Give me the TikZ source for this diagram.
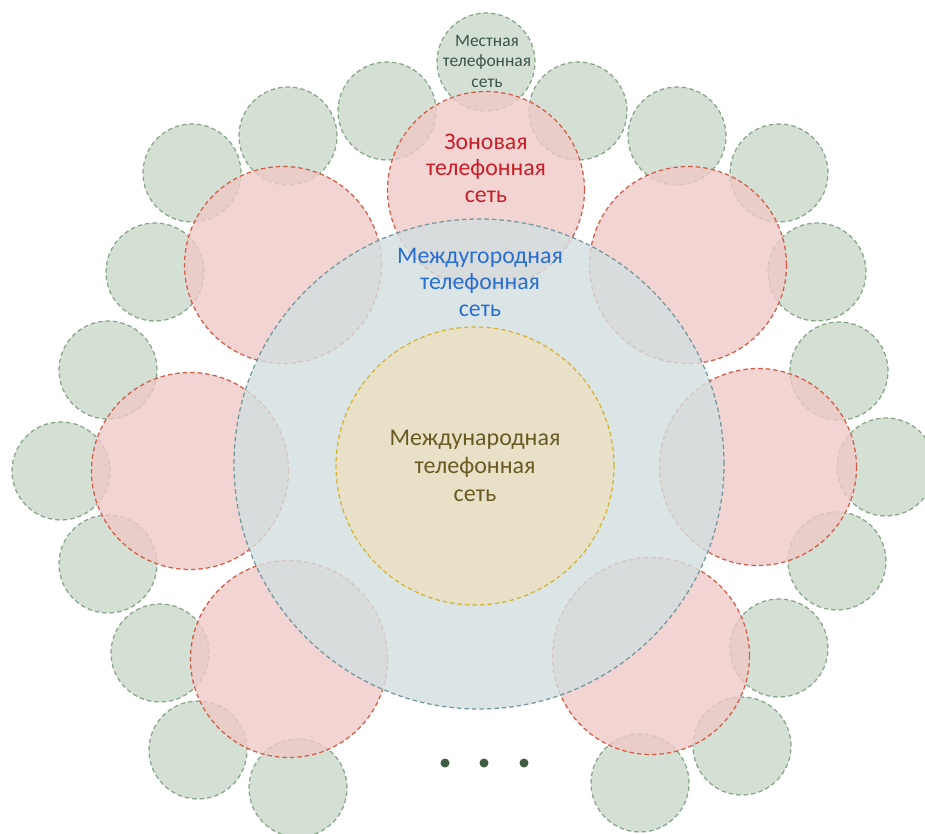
\documentclass[tikz,border=0pt]{standalone}
\usepackage{fontspec}
\setmainfont{Carlito}
\begin{document}
\definecolor{locfill}{RGB}{171,193,171}
\definecolor{locline}{RGB}{135,165,135}
\definecolor{zonfill}{RGB}{239,201,199}
\definecolor{zonline}{RGB}{212,90,72}
\definecolor{ldfill}{RGB}{211,223,224}
\definecolor{ldline}{RGB}{115,150,158}
\definecolor{intfill}{RGB}{232,225,200}
\definecolor{intline}{RGB}{212,178,50}
\definecolor{loctext}{RGB}{58,84,74}
\definecolor{zontext}{RGB}{200,30,40}
\definecolor{ldtext}{RGB}{40,110,210}
\definecolor{inttext}{RGB}{105,90,35}
\definecolor{dotcol}{RGB}{61,92,64}
\begin{tikzpicture}[x=1pt,y=-1pt,
  net/.style={circle,inner sep=0pt,line width=1.25pt,dash pattern=on 4.5pt off 3pt},
  local/.style={net,draw=locline,fill=locfill,fill opacity=0.5,minimum size=98pt},
  zone/.style={net,draw=zonline,fill=zonfill,fill opacity=0.8,minimum size=197pt},
  longd/.style={net,draw=ldline,fill=ldfill,fill opacity=0.8,minimum size=490pt},
  intl/.style={net,draw=intline,fill=intfill,minimum size=278pt},
  lbl/.style={align=center,inner sep=0pt},
  dotn/.style={circle,fill=dotcol,inner sep=0pt,minimum size=9pt}]
\useasboundingbox (0,0) rectangle (925,834);
\clip (0,0) rectangle (925,834);
% local networks
\node[local] (l1)  at (486,62)  {};
\node[local] (l2)  at (387,111) {};
\node[local] (l3)  at (578,111) {};
\node[local] (l4)  at (288,136) {};
\node[local] (l5)  at (192,173) {};
\node[local] (l6)  at (155,272) {};
\node[local] (l7)  at (677,136) {};
\node[local] (l8)  at (779,173) {};
\node[local] (l9)  at (817,272) {};
\node[local] (l10) at (108,370) {};
\node[local] (l11) at (61,471)  {};
\node[local] (l12) at (108,564) {};
\node[local] (l13) at (839,371) {};
\node[local] (l14) at (886,467) {};
\node[local] (l15) at (837,561) {};
\node[local] (l16) at (160,653) {};
\node[local] (l17) at (198,750) {};
\node[local] (l18) at (298,788) {};
\node[local] (l19) at (779,648) {};
\node[local] (l20) at (742,746) {};
\node[local] (l21) at (640,783) {};
% zone networks
\node[zone] (z1) at (486,190) {};
\node[zone] (z2) at (283,265) {};
\node[zone] (z3) at (688,265) {};
\node[zone] (z4) at (190,471) {};
\node[zone] (z5) at (758,467) {};
\node[zone] (z6) at (289,659) {};
\node[zone] (z7) at (651,656) {};
% long-distance and international networks
\node[longd] (ld) at (479,464) {};
\node[intl] (in) at (475,466) {};
% captions
\node[lbl,text=loctext,font=\fontsize{17.5}{20.5}\selectfont] (tl) at (487,61)
  {Местная\\телефонная\\сеть};
\node[lbl,text=zontext,font=\fontsize{23.8}{26.5}\selectfont] (tz) at (486,168)
  {Зоновая\\телефонная\\сеть};
\node[lbl,text=ldtext,font=\fontsize{23.8}{26.5}\selectfont] (tld) at (480,282)
  {Междугородная\\телефонная\\сеть};
\node[lbl,text=inttext,font=\fontsize{24}{28}\selectfont] (tin) at (475,466)
  {Международная\\телефонная\\сеть};
% continuation dots
\node[dotn] (d1) at (445,763) {};
\node[dotn] (d2) at (484,763) {};
\node[dotn] (d3) at (524,763) {};
\end{tikzpicture}
\end{document}
